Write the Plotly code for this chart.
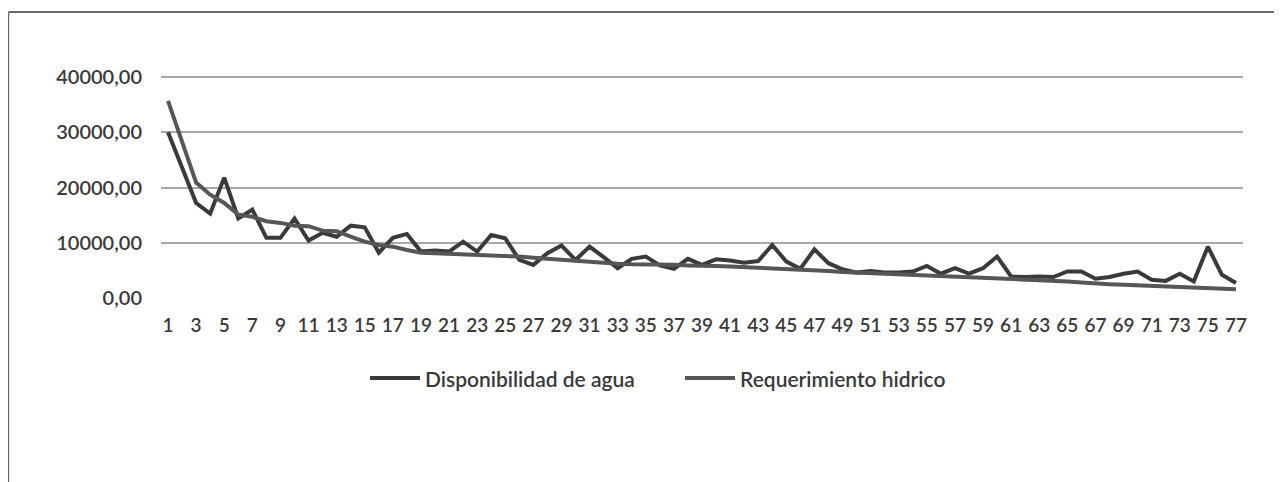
import plotly.graph_objects as go

# Data
puntos = list(range(1, 78))

disponibilidad = [
    30000, 23500, 17200, 15300, 21800, 14400, 16000, 10900, 10900, 14400,
    10400, 11800, 11100, 13100, 12800, 8200, 10900, 11600, 8400, 8600,
    8400, 10200, 8400, 11400, 10800, 6900, 6000, 8100, 9500, 6900,
    9300, 7400, 5400, 7100, 7500, 5900, 5300, 7100, 6000, 7000,
    6800, 6400, 6700, 9600, 6600, 5300, 8800, 6300, 5200, 4600,
    4900, 4600, 4600, 4800, 5800, 4400, 5400, 4400, 5400, 7500,
    3900, 3800, 3900, 3800, 4800, 4800, 3500, 3800, 4400, 4800,
    3300, 3100, 4400, 3000, 9300, 4200, 2700,
]

requerimiento = [
    35700, 28300, 20900, 18700, 17200, 15100, 14700, 13900, 13600, 13100,
    13000, 12200, 12100, 11100, 10200, 9600, 9300, 8700, 8200, 8100,
    8000, 7900, 7800, 7700, 7700, 7500, 7300, 7100, 6900, 6700,
    6500, 6300, 6200, 6100, 6100, 6000, 6000, 5900, 5900, 5800,
    5700, 5600, 5500, 5400, 5300, 5100, 5000, 4900, 4700, 4600,
    4500, 4400, 4300, 4200, 4100, 4000, 3900, 3800, 3600, 3500,
    3400, 3300, 3200, 3100, 3000, 2800, 2600, 2500, 2400, 2300,
    2200, 2100, 1900, 1800, 1800, 1700, 1600,
]

series_names = ['Disponibilidad de agua', 'Requerimiento hidrico']
series_colors = ['#3a3a3a', '#565656']

y_ticks = [0, 10000, 20000, 30000, 40000]
y_labels = ['0,00', '10000,00', '20000,00', '30000,00', '40000,00']
x_ticks = puntos[::2]

fig = go.Figure()

for name, vals, col in zip(series_names, [disponibilidad, requerimiento], series_colors):
    fig.add_trace(go.Scatter(
        x = puntos,
        y = vals,
        mode = 'lines',
        name = name,
        line = dict(color = col, width = 4),
        showlegend = False,
    ))

# page has an 8px body margin, so the figure is a bit smaller than the window
W, H = 1274, 474
L, R, T, B = 153, 39, 68, 184
pw = W - L - R
ph = H - T - B
def px_x(p):
    return (p - L) / pw
def px_y(p):
    return (H - B - p) / ph

# outer frame of the chart box (top and left edges visible)
fig.add_shape(type = 'line', xref = 'paper', yref = 'paper',
              x0 = px_x(0.5), x1 = px_x(W + 5), y0 = px_y(4), y1 = px_y(4),
              line = dict(color = '#6a6a6a', width = 2))
fig.add_shape(type = 'line', xref = 'paper', yref = 'paper',
              x0 = px_x(0.6), x1 = px_x(0.6), y0 = px_y(4), y1 = px_y(H + 5),
              line = dict(color = '#6a6a6a', width = 1.2))

# legend drawn by hand (Excel style: long line sample right before the text)
legend_y = px_y(370)
legend_x = [362, 677]
for name, col, lx in zip(series_names, series_colors, legend_x):
    fig.add_shape(type = 'line', xref = 'paper', yref = 'paper',
                  x0 = px_x(lx), x1 = px_x(lx + 50), y0 = legend_y, y1 = legend_y,
                  line = dict(color = col, width = 4))
    fig.add_annotation(xref = 'paper', yref = 'paper',
                       x = px_x(lx + 53), y = legend_y,
                       xanchor = 'left', yanchor = 'middle',
                       text = name, showarrow = False,
                       font = dict(family = 'Lato', size = 21, color = '#3a3a3a', weight = 600))

fig.update_layout(
    width = W,
    height = H,
    margin = dict(l = L, r = R, t = T, b = B),
    paper_bgcolor = 'white',
    plot_bgcolor = 'white',
    font = dict(family = 'Lato', color = '#404040', size = 18),
    showlegend = False,
    xaxis = dict(
        range = [0.5, 77.5],
        tickvals = x_ticks,
        ticktext = [str(v) for v in x_ticks],
        tickangle = 0,
        showgrid = False,
        showline = False,
        zeroline = False,
        ticks = '',
        ticklabelstandoff = 14,
        tickfont = dict(family = 'Lato', size = 19, color = '#3a3a3a', weight = 600),
    ),
    yaxis = dict(
        range = [0, 40200],
        tickvals = y_ticks,
        ticktext = y_labels,
        showgrid = True,
        gridcolor = '#a8a8a8',
        gridwidth = 1.5,
        zeroline = False,
        showline = False,
        ticks = '',
        ticklabelstandoff = 18,
        tickfont = dict(family = 'Lato', size = 20, color = '#3a3a3a', weight = 600),
    ),
)

fig.write_html("out.html")
